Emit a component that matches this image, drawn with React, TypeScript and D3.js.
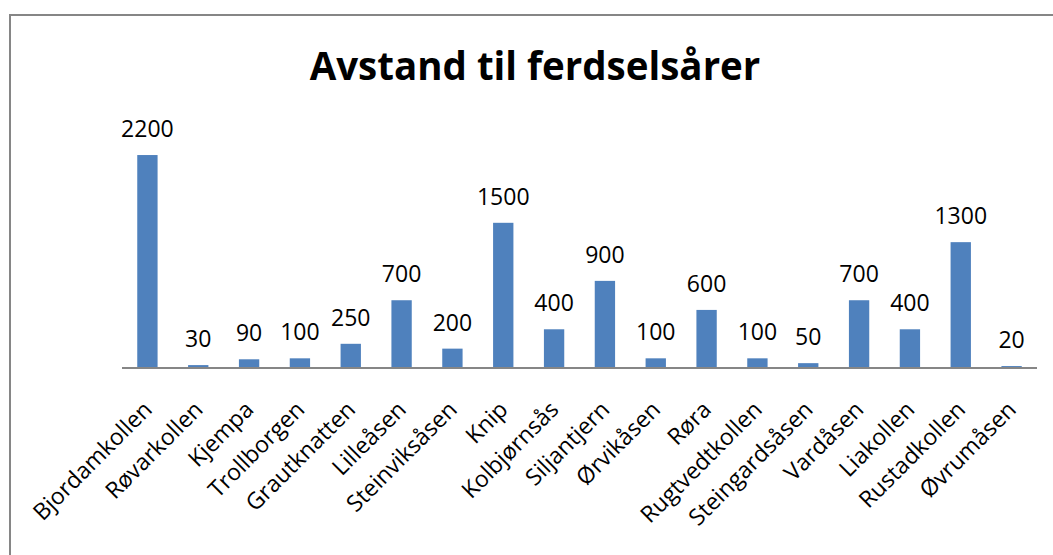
import React, { useRef, useEffect } from "react";
import * as d3 from "d3";

const categories = [
  "Bjordamkollen", "Røvarkollen", "Kjempa", "Trollborgen", "Grautknatten",
  "Lilleåsen", "Steinviksåsen", "Knip", "Kolbjørnsås", "Siljantjern",
  "Ørvikåsen", "Røra", "Rugtvedtkollen", "Steingardsåsen", "Vardåsen",
  "Liakollen", "Rustadkollen", "Øvrumåsen",
];
const values = [2200, 30, 90, 100, 250, 700, 200, 1500, 400, 900, 100, 600, 100, 50, 700, 400, 1300, 20];
const title = "Avstand til ferdselsårer";

const W = 1053;
const H = 555;

const App = () => {
  const svgRef = useRef<SVGSVGElement | null>(null);

  useEffect(() => {
    const svg = d3.select(svgRef.current);
    svg.selectAll("*").remove();

    const font = "Open Sans, Liberation Sans, sans-serif";

    // chart frame
    svg.append("rect")
      .attr("x", 10).attr("y", 15)
      .attr("width", W + 20).attr("height", H + 20)
      .attr("fill", "#fff")
      .attr("stroke", "#868686")
      .attr("stroke-width", 2);

    const x = d3.scaleBand().domain(categories).range([122, 1037]).paddingInner(0.6).paddingOuter(0.3);
    const y = d3.scaleLinear().domain([0, 2500]).range([368, 126]);

    svg.append("text")
      .attr("x", 535).attr("y", 80)
      .attr("text-anchor", "middle")
      .style("font-family", font)
      .style("font-size", "38.5px")
      .style("font-weight", "bold")
      .text(title);

    const rows = categories.map((c, i) => ({ c, v: values[i] }));

    svg.append("g").selectAll("rect")
      .data(rows).enter().append("rect")
      .attr("x", d => x(d.c)!)
      .attr("y", d => y(d.v))
      .attr("width", x.bandwidth())
      .attr("height", d => y(0) - y(d.v))
      .attr("fill", "#4F81BD");

    svg.append("line")
      .attr("x1", 122).attr("x2", 1037)
      .attr("y1", y(0)).attr("y2", y(0))
      .attr("stroke", "#868686").attr("stroke-width", 2);

    svg.append("g").selectAll("text")
      .data(rows).enter().append("text")
      .attr("x", d => x(d.c)! + x.bandwidth() / 2)
      .attr("y", d => y(d.v) - 18)
      .attr("text-anchor", "middle")
      .style("font-family", font)
      .style("font-size", "23px")
      .text(d => d.v);

    svg.append("g").selectAll("text")
      .data(categories).enter().append("text")
      .attr("transform", c => `translate(${x(c)! + x.bandwidth() / 2 + 6},${y(0) + 43}) rotate(-45)`)
      .attr("text-anchor", "end")
      .style("font-family", font)
      .style("font-size", "23px")
      .text(c => c);
  }, []);

  return <svg ref={svgRef} width={W} height={H} style={{ display: "block", position: "absolute", left: 0, top: 0 }} />;
};

export default App;
